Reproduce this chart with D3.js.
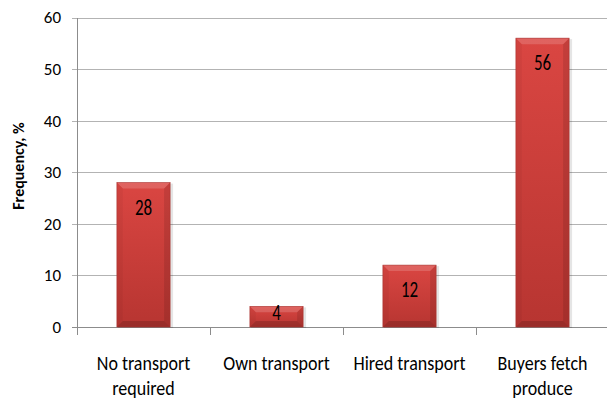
<!DOCTYPE html>
<html>
<head>
<meta charset="utf-8">
<script src="https://d3js.org/d3.v7.min.js"></script>
<style>
	body { margin: 0; background: #fff; }
	svg text { font-family: Carlito, Calibri, "Liberation Sans Narrow", "Liberation Sans", sans-serif; fill: #000; }
</style>
</head>
<body>
<svg id="chart"></svg>
<script>
	// data
	const categories = ["No transport required", "Own transport", "Hired transport", "Buyers fetch produce"];
	const catLines = [["No transport", "required"], ["Own transport"], ["Hired transport"], ["Buyers fetch", "produce"]];
	const frequency = [28, 4, 12, 56];
	const yTicks = [0, 10, 20, 30, 40, 50, 60];

	const width = 607, height = 403;
	const plotLeft = 77, plotRight = 609, plotTop = 17.5, plotBottom = 327;

	const svg = d3.select('#chart')
		.attr('width', width)
		.attr('height', height);

	const x = d3.scaleBand()
		.domain(categories)
		.range([plotLeft, plotRight])
		.paddingInner(0.6)
		.paddingOuter(0.3);

	const y = d3.scaleLinear()
		.domain([0, 60])
		.range([plotBottom, plotTop]);

	// gradient for the bar face
	const defs = svg.append('defs');
	const face = defs.append('linearGradient').attr('id', 'face')
		.attr('x1', 0).attr('y1', 0).attr('x2', 0).attr('y2', 1);
	face.append('stop').attr('offset', '0%').attr('stop-color', '#da4642');
	face.append('stop').attr('offset', '100%').attr('stop-color', '#b73531');

	// gridlines
	svg.append('g')
		.selectAll('line')
		.data(yTicks)
		.enter().append('line')
		.attr('x1', plotLeft - 5)
		.attr('x2', width)
		.attr('y1', d => Math.round(y(d)) + 0.5)
		.attr('y2', d => Math.round(y(d)) + 0.5)
		.attr('stroke', d => d === 0 ? '#8c8c8c' : '#b3b3b3')
		.attr('stroke-width', 1);

	// y axis line
	svg.append('line')
		.attr('x1', plotLeft + 0.5).attr('x2', plotLeft + 0.5)
		.attr('y1', Math.round(plotTop)).attr('y2', plotBottom + 8)
		.attr('stroke', '#8c8c8c');

	// category boundary ticks
	const bounds = categories.map(c => x(c) - x.step() * x.paddingOuter());
	bounds.push(plotRight);
	svg.append('g')
		.selectAll('line')
		.data(bounds)
		.enter().append('line')
		.attr('x1', d => Math.round(d) + 0.5)
		.attr('x2', d => Math.round(d) + 0.5)
		.attr('y1', plotBottom)
		.attr('y2', plotBottom + 8)
		.attr('stroke', '#8c8c8c');

	// y tick labels
	svg.append('g')
		.selectAll('text')
		.data(yTicks)
		.enter().append('text')
		.attr('x', 61)
		.attr('y', d => y(d))
		.attr('dy', '0.35em')
		.attr('text-anchor', 'end')
		.attr('font-size', 17)
		.text(d => d);

	// y axis title
	svg.append('text')
		.attr('transform', 'translate(24,166) rotate(-90)')
		.attr('text-anchor', 'middle')
		.attr('font-size', 16)
		.attr('font-weight', 'bold')
		.text('Frequency, %');

	// bars
	const bev = 6;
	const bw = x.bandwidth();
	const bh = d => y(0) - y(d);

	const bars = svg.append('g')
		.selectAll('g')
		.data(frequency)
		.enter().append('g')
		.attr('transform', (d, i) => `translate(${x(categories[i])},${y(d)})`);

	// soft shadow
	bars.append('rect')
		.attr('x', 1).attr('y', 1)
		.attr('width', bw + 2)
		.attr('height', d => bh(d))
		.attr('fill', '#000')
		.attr('opacity', 0.1);

	bars.append('rect')
		.attr('width', bw)
		.attr('height', d => bh(d))
		.attr('fill', 'url(#face)');

	// bevel edges as light/dark overlays
	const bevel = (d, side) => {
		const b = Math.min(bev, bh(d) / 2), h = bh(d);
		if (side === 'top') return `M0,0H${bw}L${bw - b},${b}H${b}Z`;
		if (side === 'left') return `M0,0L${b},${b}V${h - b}L0,${h}Z`;
		if (side === 'right') return `M${bw},0L${bw - b},${b}V${h - b}L${bw},${h}Z`;
		return `M0,${h}L${b},${h - b}H${bw - b}L${bw},${h}Z`;
	};
	[['top', '#fff', 0.16], ['left', '#000', 0.04], ['right', '#000', 0.1], ['bottom', '#000', 0.16]]
		.forEach(([side, col, op]) => {
			bars.append('path')
				.attr('d', d => bevel(d, side))
				.attr('fill', col)
				.attr('opacity', op);
		});

	// thin outline
	bars.append('rect')
		.attr('width', bw)
		.attr('height', d => bh(d))
		.attr('fill', 'none')
		.attr('stroke', '#a8322f')
		.attr('stroke-width', 0.6);

	// value labels (taller glyphs as in the picture)
	svg.append('g')
		.selectAll('text')
		.data(frequency)
		.enter().append('text')
		.attr('transform', (d, i) => `translate(${x(categories[i]) + bw / 2},${Math.min(y(d) + 24, (y(d) + y(0)) / 2 - 5)}) scale(1,1.35)`)
		.attr('dy', '0.35em')
		.attr('text-anchor', 'middle')
		.attr('font-size', 17)
		.text(d => d);

	// category labels
	const catRows = [];
	catLines.forEach((lines, i) => lines.forEach((t, j) => catRows.push({ t, i, j })));
	svg.append('g')
		.selectAll('text')
		.data(catRows)
		.enter().append('text')
		.attr('transform', d => `translate(${x(categories[d.i]) + bw / 2},${363 + d.j * 25}) scale(1,1.18)`)
		.attr('dy', '0.35em')
		.attr('text-anchor', 'middle')
		.attr('font-size', 18)
		.text(d => d.t);
</script>
</body>
</html>
